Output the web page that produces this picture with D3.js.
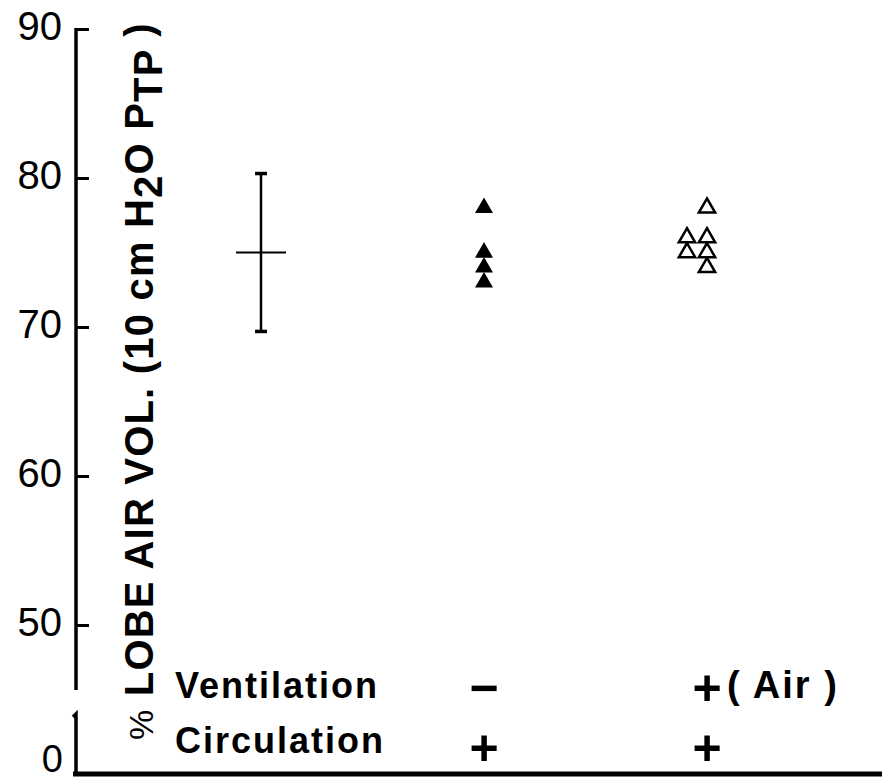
<!DOCTYPE html>
<html lang='en'>
<head>
  <title>Lobe air volume</title>
  <script src='https://cdn.jsdelivr.net/npm/d3@7'></script>
  <style>
    body { margin: 0; background: #fff; }
  </style>
</head>
<body>
  <script>
    // data
    let categories = ["Control", "No ventilation", "Ventilation (air)"];
    let yTicks = [50, 60, 70, 80, 90];
    let controlMean = 75, controlSD = 5.3;
    let unventilated = [78, 75, 74, 73];        // filled triangles
    let ventilated = [78, 76, 76, 75, 75, 74];   // open triangles
    let ventilationLabels = ["", "\u2212", "+( Air )"];
    let circulationLabels = ["", "+", "+"];

    let width = 882, height = 783;
    let svg = d3.select("body").append("svg")
      .attr("width", width)
      .attr("height", height);

    let axisX = 76;
    let baseY = 774;

    // the scales
    let yScale = d3.scaleLinear().domain([50, 90]).range([625, 29]);
    let xScale = d3.scalePoint().domain(categories).range([261, 707]);

    // upper (broken) y axis
    svg.append("line")
      .attr("x1", axisX).attr("x2", axisX)
      .attr("y1", yScale(90) - 1).attr("y2", 690)
      .attr("stroke", "#000").attr("stroke-width", 3.5);
    let yAxis = d3.axisLeft(yScale)
      .tickValues(yTicks)
      .tickSizeInner(-13)
      .tickSizeOuter(0)
      .tickPadding(14);
    let yAxisG = svg.append("g")
      .attr("transform", `translate(${axisX}, 0)`)
      .call(yAxis);
    yAxisG.select(".domain").remove();
    yAxisG.selectAll(".tick line").attr("stroke", "#000").attr("stroke-width", 3);
    yAxisG.selectAll(".tick text")
      .attr("dy", "0.26em")
      .attr("fill", "#000")
      .style("font-family", "'Liberation Sans', Arial, sans-serif")
      .style("font-size", "40px");

    // lower segment of the axis and the zero
    svg.append("path")
      .attr("d", `M${axisX - 3},${717} L${axisX},${714} L${axisX},${baseY}`)
      .attr("fill", "none").attr("stroke", "#000").attr("stroke-width", 3.5);
    svg.append("text").text("0")
      .attr("x", 63).attr("y", 772)
      .attr("text-anchor", "end")
      .style("font-family", "'Liberation Sans', Arial, sans-serif")
      .style("font-size", "38px");

    // baseline
    svg.append("line")
      .attr("x1", axisX - 3).attr("x2", width)
      .attr("y1", baseY).attr("y2", baseY)
      .attr("stroke", "#000").attr("stroke-width", 5);

    // control: mean +/- SD
    let cx = xScale(categories[0]);
    let err = svg.append("g");
    err.append("line")
      .attr("x1", cx).attr("x2", cx)
      .attr("y1", yScale(controlMean + controlSD)).attr("y2", yScale(controlMean - controlSD))
      .attr("stroke", "#000").attr("stroke-width", 2.5);
    [controlMean + controlSD, controlMean - controlSD].forEach(v => {
      err.append("line")
        .attr("x1", cx - 6).attr("x2", cx + 6)
        .attr("y1", yScale(v)).attr("y2", yScale(v))
        .attr("stroke", "#000").attr("stroke-width", 3.5);
    });
    err.append("line")
      .attr("x1", cx - 25).attr("x2", cx + 25)
      .attr("y1", yScale(controlMean)).attr("y2", yScale(controlMean))
      .attr("stroke", "#000").attr("stroke-width", 2);

    // shift repeated values sideways so they do not overlap
    function spread(values) {
      let seen = {};
      return values.map(v => {
        let k = seen[v] || 0;
        seen[v] = k + 1;
        return { value: v, rank: k };
      });
    }

    let filledTri = d3.symbol().type(d3.symbolTriangle).size(140);
    let openTri = d3.symbol().type(d3.symbolTriangle).size(115);

    svg.append("g").selectAll("path").data(spread(unventilated)).join("path")
      .attr("d", filledTri)
      .attr("transform", d => `translate(${xScale(categories[1]) - d.rank * 20}, ${yScale(d.value)})`)
      .attr("fill", "#000");

    svg.append("g").selectAll("path").data(spread(ventilated)).join("path")
      .attr("d", openTri)
      .attr("transform", d => `translate(${xScale(categories[2]) - d.rank * 20}, ${yScale(d.value)})`)
      .attr("fill", "#fff")
      .attr("stroke", "#000")
      .attr("stroke-width", 2.5);

    // condition table under the points
    let labelFont = "'Liberation Sans', Arial, sans-serif";
    let rows = [
      { name: "Ventilation", y: 698, signY: 705, labels: ventilationLabels },
      { name: "Circulation", y: 753, signY: 765, labels: circulationLabels }
    ];
    rows.forEach(r => {
      svg.append("text").text(r.name)
        .attr("x", 175).attr("y", r.y)
        .style("font-family", labelFont)
        .style("font-weight", "bold")
        .style("font-size", "36px")
        .style("letter-spacing", "2px");
      let cells = r.labels.map((t, i) => ({ sign: t.slice(0, 1), rest: t.slice(1), c: categories[i] }));
      // the +/- sign, centred on its column
      svg.append("g").selectAll("text").data(cells).join("text")
        .text(d => d.sign)
        .attr("x", d => xScale(d.c))
        .attr("y", r.signY)
        .attr("text-anchor", "middle")
        .style("font-family", labelFont)
        .style("font-weight", "bold")
        .style("font-size", "50px");
      // any words after the sign
      svg.append("g").selectAll("text").data(cells).join("text")
        .text(d => d.rest)
        .attr("x", d => xScale(d.c) + 20)
        .attr("y", r.y)
        .style("font-family", labelFont)
        .style("font-weight", "bold")
        .style("font-size", "38px")
        .style("letter-spacing", "2px");
    });

    // y axis title
    let title = svg.append("text")
      .attr("transform", `translate(153, 740) rotate(-90)`)
      .style("font-family", labelFont)
      .style("font-weight", "bold")
      .style("font-size", "40px")
      .style("letter-spacing", "1.2px");
    title.append("tspan").text("%").style("font-weight", "normal").style("font-size", "34px");
    title.append("tspan").text(" LOBE  AIR  VOL. (10 cm H");
    title.append("tspan").text("2").attr("dy", 9);
    title.append("tspan").text("O  P").attr("dy", -9);
    title.append("tspan").text("TP").attr("dy", 9);
    title.append("tspan").text(" )").attr("dy", -9);
  </script>
</body>
</html>
